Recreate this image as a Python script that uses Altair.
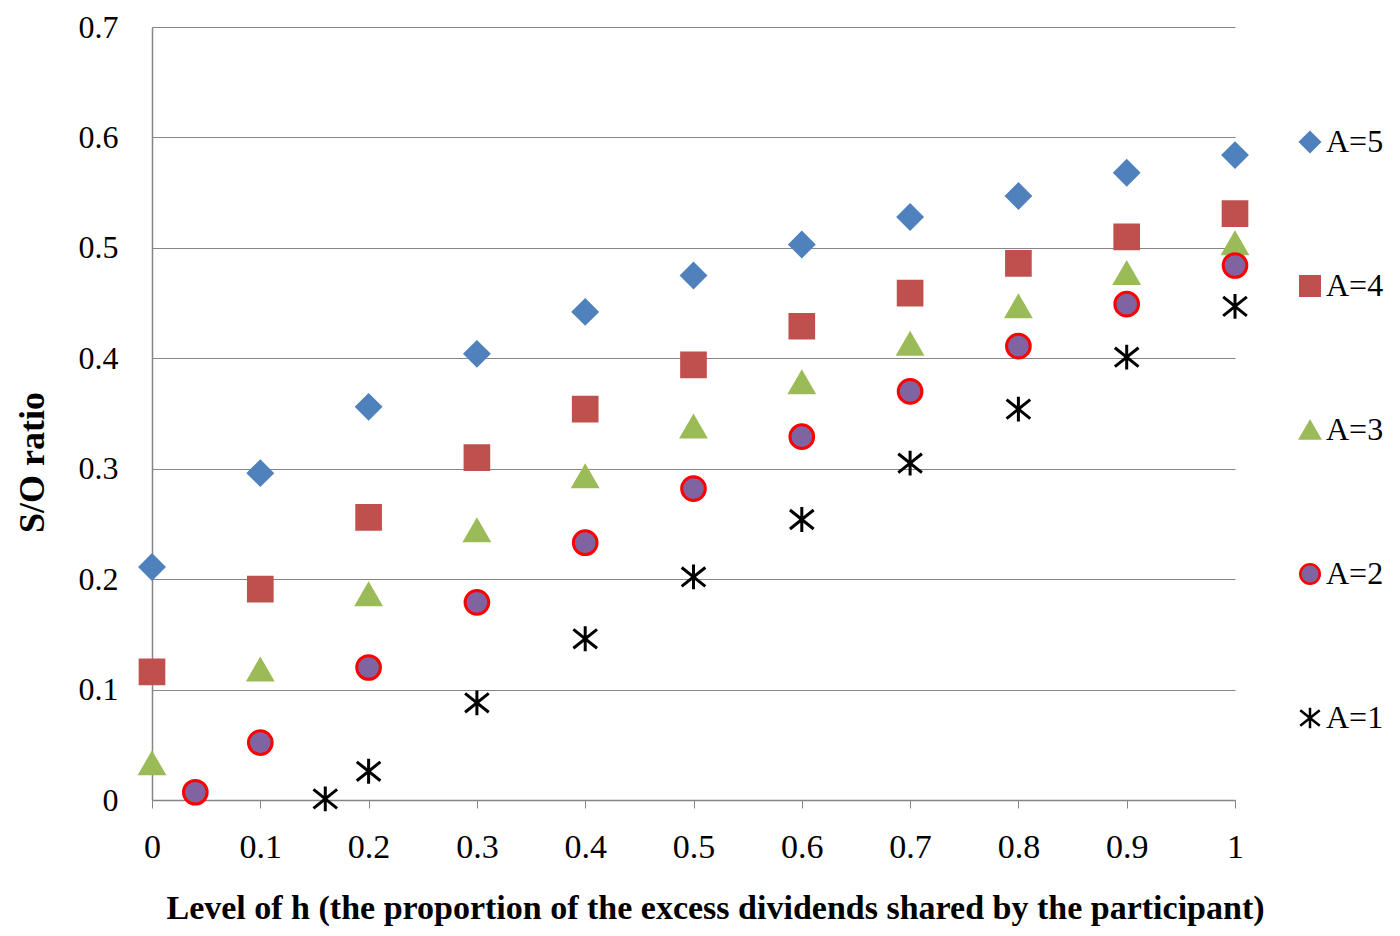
import altair as alt
import pandas as pd

# Data
h_vals = [0, 0.1, 0.2, 0.3, 0.4, 0.5, 0.6, 0.7, 0.8, 0.9, 1.0]
a5 = [0.211, 0.296, 0.356, 0.404, 0.442, 0.475, 0.503, 0.528, 0.547, 0.568, 0.584]
a4 = [0.116, 0.191, 0.256, 0.310, 0.354, 0.394, 0.429, 0.459, 0.486, 0.510, 0.531]
a3 = [0.033, 0.118, 0.186, 0.244, 0.293, 0.338, 0.378, 0.413, 0.447, 0.477, 0.504]
h_a2 = [0.04, 0.1, 0.2, 0.3, 0.4, 0.5, 0.6, 0.7, 0.8, 0.9, 1.0]
a2 = [0.007, 0.052, 0.120, 0.179, 0.233, 0.282, 0.329, 0.370, 0.411, 0.449, 0.484]
h_a1 = [0.16, 0.2, 0.3, 0.4, 0.5, 0.6, 0.7, 0.8, 0.9, 1.0]
a1 = [0.001, 0.026, 0.088, 0.146, 0.202, 0.254, 0.305, 0.354, 0.401, 0.447]
y_ticks = [0, 0.1, 0.2, 0.3, 0.4, 0.5, 0.6, 0.7]

series = ["A=5", "A=4", "A=3", "A=2", "A=1"]
fills = ["#4F81BD", "#C0504D", "#9BBB59", "#8064A2", "#000000"]
strokes = ["#4F81BD", "#C0504D", "#9BBB59", "#FF0000", "#000000"]
asterisk = "M0,-1.05L0,1.05M-1.0,-0.8L1.0,0.8M-1.0,0.8L1.0,-0.8"
shapes = ["diamond", "square", "triangle-up", "circle", asterisk]

rows = []
for name, xs, ys in [("A=5", h_vals, a5), ("A=4", h_vals, a4), ("A=3", h_vals, a3),
                     ("A=2", h_a2, a2), ("A=1", h_a1, a1)]:
    for x, y in zip(xs, ys):
        rows.append({"h": x, "so": y, "A": name})
df = pd.DataFrame(rows)

FONT = "Liberation Serif"

legend = alt.Legend(
    title=None, orient="none", legendX=1142, legendY=99,
    labelFont=FONT, labelFontSize=32, labelColor="black",
    symbolSize=380, symbolStrokeWidth=2.5, rowPadding=112, labelOffset=0,
)

chart = alt.Chart(df).mark_point(filled=True, strokeWidth=3, opacity=1, size=560).encode(
    x=alt.X("h:Q", scale=alt.Scale(domain=[0, 1], nice=False),
            axis=alt.Axis(values=h_vals, format="~g", grid=False, tickSize=8,
                          tickColor="#868686", domainColor="#868686",
                          labelFlush=False,
                          labelPadding=22, labelFontSize=34, labelFont=FONT,
                          labelColor="black",
                          title="Level of h (the proportion of  the excess  dividends shared by the participant)",
                          titleFont=FONT, titleFontSize=34, titleFontWeight="bold",
                          titleColor="black", titleX=563, titleY=108,
                          titleBaseline="middle", titleAlign="center")),
    y=alt.Y("so:Q", scale=alt.Scale(domain=[0, 0.7], nice=False),
            axis=alt.Axis(values=y_ticks, format="~g",
                          grid=True, gridColor="#868686", ticks=False,
                          domainColor="#868686", labelPadding=34,
                          labelFontSize=32, labelFont=FONT, labelColor="black",
                          title="S/O ratio", titleFont=FONT, titleFontSize=36,
                          titleFontWeight="bold", titleColor="black",
                          titleX=-120, titleY=435, titleAngle=-90,
                          titleBaseline="middle", titleAlign="center")),
    color=alt.Color("A:N", scale=alt.Scale(domain=series, range=fills), sort=series, legend=legend),
    fill=alt.Fill("A:N", scale=alt.Scale(domain=series, range=fills), sort=series, legend=legend),
    stroke=alt.Stroke("A:N", scale=alt.Scale(domain=series, range=strokes), sort=series, legend=legend),
    shape=alt.Shape("A:N", scale=alt.Scale(domain=series, range=shapes), sort=series, legend=legend),
).properties(
    width=1083, height=773,
    autosize=alt.AutoSizeParams(type="none"),
    padding={"left": 144, "top": 19, "right": 157, "bottom": 128},
).configure_view(stroke=None).configure_axis(gridWidth=1, domainWidth=1.5)

chart.save("out.html", embed_options={"renderer": "svg", "actions": False})
